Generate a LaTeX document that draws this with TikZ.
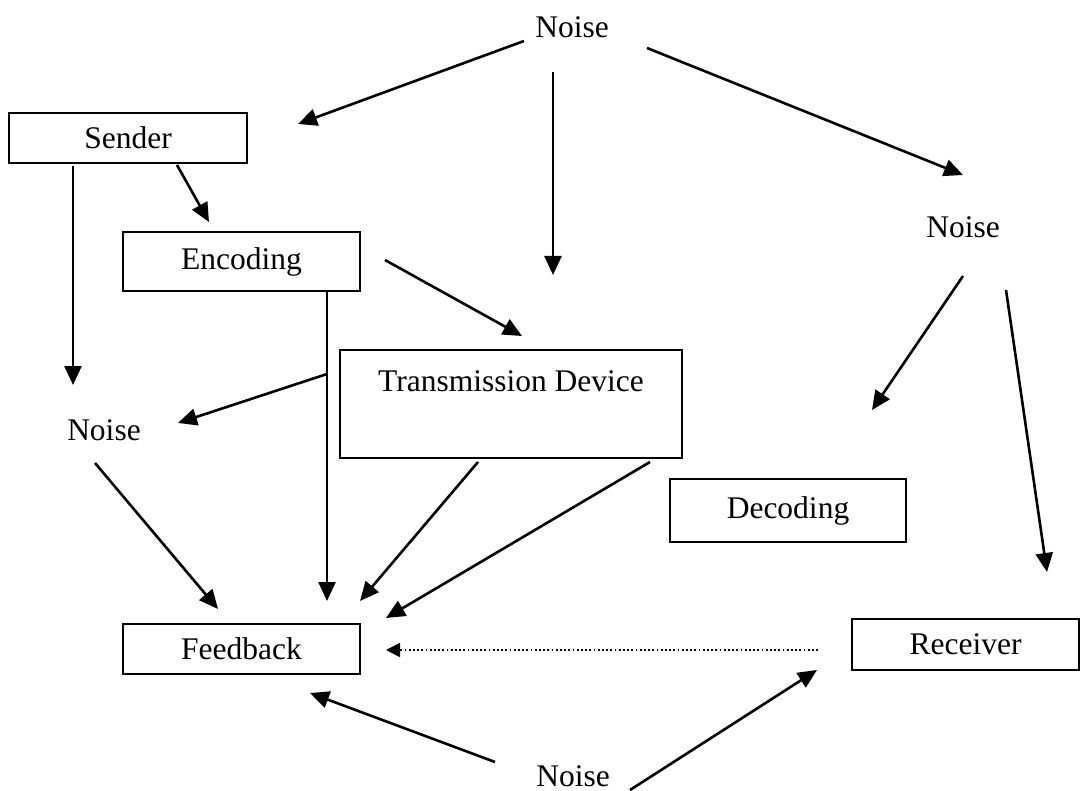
\documentclass[tikz,border=0pt]{standalone}
\usepackage{fontspec}
\setmainfont{Liberation Serif}
\usetikzlibrary{arrows.meta}
\begin{document}
\begin{tikzpicture}[x=1pt,y=-1pt,
  every node/.style={font=\fontsize{31.5}{36}\selectfont},
  label/.style={inner sep=0pt},
  box/.style={draw, line width=2pt, inner sep=0pt},
  arr/.style={line width=2.6pt, -{Triangle[length=19pt,width=17pt]}},
  dotarr/.style={line width=1.8pt, dash pattern=on 1.8pt off 2.4pt, -{Triangle[length=14pt,width=14pt]}}]
\useasboundingbox (0,0) rectangle (1081,791);

% boxes
\node[box, minimum width=238pt, minimum height=50pt] (sender) at (128,138) {Sender};
\node[box, minimum width=237pt, minimum height=59pt] (encoding) at (241.5,261.5) {Encoding};
\node[box, minimum width=342pt, text height=41pt, text depth=67pt, anchor=north] (trans) at (511,349) {Transmission Device};
\node[box, minimum width=236pt, minimum height=63pt] (decoding) at (788,510.5) {Decoding};
\node[box, minimum width=237pt, minimum height=50pt] (feedback) at (241.5,649) {Feedback};
\node[box, minimum width=227pt, minimum height=51pt] (receiver) at (965.5,644.5) {Receiver};

% noise labels
\node[label] (noiseT) at (572,27) {Noise};
\node[label] (noiseR) at (963,227) {Noise};
\node[label] (noiseL) at (104,430) {Noise};
\node[label] (noiseB) at (573,776) {Noise};

% connector end points
\coordinate (a1s) at (524,41);   \coordinate (a1e) at (298,124);
\coordinate (a2s) at (553,72);   \coordinate (a2e) at (553,275);
\coordinate (a3s) at (647,48);   \coordinate (a3e) at (963,175);
\coordinate (a4s) at (177,165);  \coordinate (a4e) at (209,222);
\coordinate (a5s) at (73,166);   \coordinate (a5e) at (73,385);
\coordinate (a6s) at (385,260);  \coordinate (a6e) at (522,336);
\coordinate (a7s) at (327,291);  \coordinate (a7e) at (327,601);
\coordinate (br)  at (327,374);  \coordinate (a8e) at (178,423);
\coordinate (a9s) at (478,462);  \coordinate (a9e) at (360,601);
\coordinate (a10s) at (95,463);  \coordinate (a10e) at (218,609);
\coordinate (a11s) at (650,462); \coordinate (a11e) at (386,618);
\coordinate (a12s) at (963,276); \coordinate (a12e) at (872,410);
\coordinate (a13s) at (1006,290);\coordinate (a13e) at (1047,572);
\coordinate (a14s) at (818,650); \coordinate (a14e) at (386,650);
\coordinate (a15s) at (495,762); \coordinate (a15e) at (310,693);
\coordinate (a16s) at (630,790); \coordinate (a16e) at (817,670);

% connectors
\draw[arr] (a1s) -- (a1e);
\draw[arr] (a2s) -- (a2e);
\draw[arr] (a3s) -- (a3e);
\draw[arr] (a4s) -- (a4e);
\draw[arr] (a5s) -- (a5e);
\draw[arr] (a6s) -- (a6e);
\draw[arr] (a7s) -- (a7e);
\draw[arr] (br) -- (a8e);
\draw[arr] (a9s) -- (a9e);
\draw[arr] (a10s) -- (a10e);
\draw[arr] (a11s) -- (a11e);
\draw[arr] (a12s) -- (a12e);
\draw[arr] (a13s) -- (a13e);
\draw[dotarr] (a14s) -- (a14e);
\draw[arr] (a15s) -- (a15e);
\draw[arr] (a16s) -- (a16e);
\end{tikzpicture}
\end{document}
